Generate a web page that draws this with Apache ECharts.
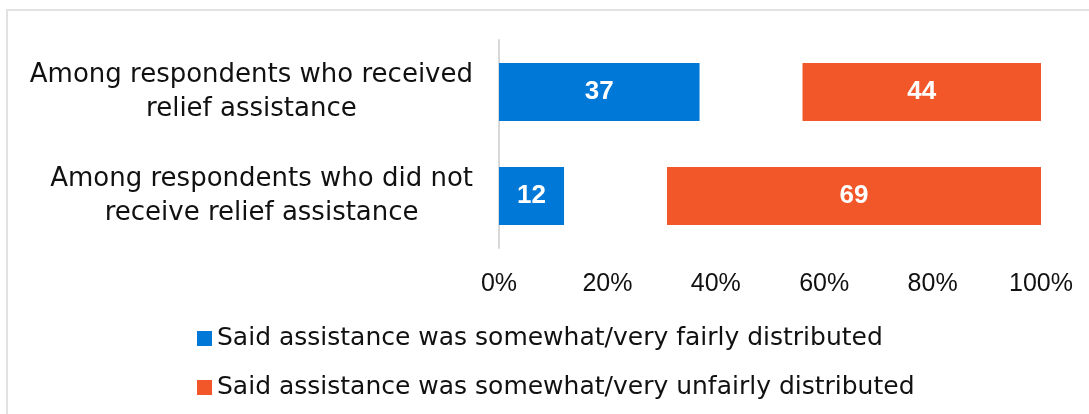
<!DOCTYPE html>
<html>
<head>
<meta charset="utf-8">
<script src="https://cdn.jsdelivr.net/npm/echarts@6/dist/echarts.min.js"></script>
<style>
  html, body { margin: 0; padding: 0; background: #ffffff; }
  #frame { position: absolute; left: 6px; top: 9px; width: 1200px; height: 600px;
           border-top: 2px solid #e2e2e2; border-left: 2px solid #e2e2e2; }
  #chart { position: absolute; left: 0; top: 0; width: 1089px; height: 414px; }
</style>
</head>
<body>
<div id="frame"></div>
<div id="chart"></div>
<script>
// Data
const categories = [
  'Among respondents who received\nrelief assistance',
  'Among respondents who did not\nreceive relief assistance'
];
const fairValues = [37, 12];
const neitherValues = [19, 19];   // invisible remainder between the two bars
const unfairValues = [44, 69];
const tickLabels = ['0%', '20%', '40%', '60%', '80%', '100%'];
const seriesNames = [
  'Said assistance was somewhat/very fairly distributed',
  'Said assistance was somewhat/very unfairly distributed'
];

const chart = echarts.init(document.getElementById('chart'), null, { renderer: 'canvas' });

const barLabel = {
  show: true,
  position: 'inside',
  color: '#ffffff',
  fontWeight: 'bold',
  fontSize: 26,
  fontFamily: 'Liberation Sans'
};

chart.setOption({
  animation: false,
  backgroundColor: 'transparent',
  grid: { left: 499, right: 48, top: 40, bottom: 166, containLabel: false, outerBoundsMode: 'none' },
  legend: {
    orient: 'vertical',
    left: 192,
    top: 321,
    icon: 'rect',
    itemWidth: 15,
    itemHeight: 15,
    itemGap: 24,
    data: seriesNames,
    textStyle: { fontFamily: 'DejaVu Sans', fontSize: 25, lineHeight: 24, color: '#111111' }
  },
  xAxis: {
    type: 'value',
    min: 0,
    max: 100,
    interval: 20,
    axisLine: { show: false },
    axisTick: { show: false },
    splitLine: { show: false },
    axisLabel: {
      margin: 24,
      fontFamily: 'Liberation Sans',
      fontSize: 25,
      color: '#111111',
      formatter: function (v) { return tickLabels[Math.round(v / 20)]; }
    }
  },
  yAxis: {
    type: 'category',
    inverse: true,
    data: categories,
    axisLine: { show: true, lineStyle: { color: '#d9d9d9', width: 2 } },
    axisTick: { show: false },
    splitLine: { show: false },
    axisLabel: {
      margin: 26,
      align: 'right',
      color: '#111111',
      formatter: function (v) {
        return v.split('\n').map(function (l) { return '{c|' + l + '}'; }).join('\n');
      },
      rich: {
        c: { align: 'center', fontFamily: 'DejaVu Sans', fontSize: 26, lineHeight: 34, color: '#111111' }
      }
    }
  },
  series: [
    {
      name: seriesNames[0],
      type: 'bar',
      stack: 'total',
      barWidth: 58,
      data: fairValues,
      itemStyle: { color: '#0078d7' },
      label: barLabel
    },
    {
      name: 'neither',
      type: 'bar',
      stack: 'total',
      barWidth: 58,
      data: neitherValues,
      itemStyle: { color: 'rgba(0,0,0,0)' },
      label: { show: false },
      silent: true
    },
    {
      name: seriesNames[1],
      type: 'bar',
      stack: 'total',
      barWidth: 58,
      data: unfairValues,
      itemStyle: { color: '#f2572a' },
      label: barLabel
    }
  ]
});
</script>
</body>
</html>
